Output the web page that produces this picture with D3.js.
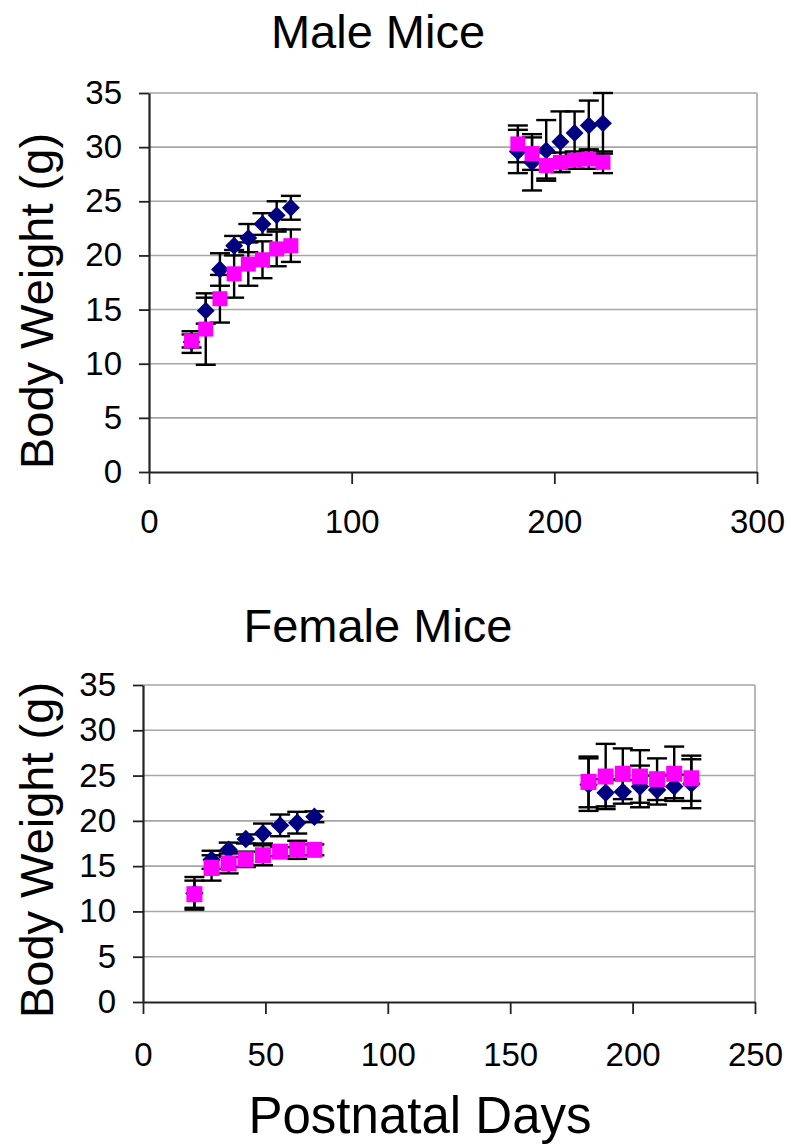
<!DOCTYPE html>
<html>
<head>
<meta charset="utf-8">
<script src="https://cdnjs.cloudflare.com/ajax/libs/d3/7.8.5/d3.min.js"></script>
<style>
  body { margin: 0; background: #fff; }
  svg text { font-family: "Liberation Sans", Arial, sans-serif; fill: #000; }
</style>
</head>
<body>
<div id="chart"></div>
<script>
// Data (postnatal day, body weight g, error g)
const days = [21, 28, 35, 42, 49, 56, 63, 70, 182, 189, 196, 203, 210, 217, 224];

const maleBlue     = [12.0, 14.9, 18.7, 20.9, 21.6, 22.9, 23.7, 24.4, 29.6, 28.6, 29.7, 30.5, 31.3, 32.0, 32.2];
const maleBlueErr  = [1.0, 1.2, 1.5, 0.9, 1.3, 1.0, 1.3, 1.1, 2.0, 2.6, 2.8, 2.8, 2.0, 2.3, 2.8];
const malePink     = [12.1, 13.2, 16.0, 18.3, 19.2, 19.6, 20.6, 20.9, 30.3, 29.4, 28.3, 28.6, 28.8, 28.9, 28.6];
const malePinkErr  = [0.6, 3.3, 2.2, 2.2, 2.0, 1.7, 1.6, 1.5, 1.7, 1.5, 1.2, 0.9, 0.8, 0.9, 1.0];

const femaleBlue    = [12.0, 15.7, 16.8, 18.0, 18.6, 19.5, 19.8, 20.45, 24.0, 23.1, 23.2, 23.8, 23.4, 23.8, 24.1];
const femaleBlueErr = [1.8, 1.0, 0.8, 0.5, 1.1, 1.2, 1.2, 0.6, 2.9, 1.5, 1.3, 2.3, 1.6, 1.3, 2.7];
const femalePink    = [11.9, 14.8, 15.3, 15.75, 16.2, 16.6, 16.8, 16.8, 24.3, 24.9, 25.2, 24.9, 24.6, 25.2, 24.7];
const femalePinkErr = [1.5, 1.4, 1.1, 0.85, 1.1, 0.5, 1.0, 0.6, 2.8, 3.6, 2.8, 2.9, 2.3, 3.0, 2.5];

const yTicks = [0, 5, 10, 15, 20, 25, 30, 35];
const maleXTicks = [0, 100, 200, 300];
const femaleXTicks = [0, 50, 100, 150, 200, 250];

const svgWidth = 791;
const svgHeight = 1144;

const svg = d3.select('#chart')
              .append('svg')
              .attr('width', svgWidth)
              .attr('height', svgHeight);

function drawPanel(p) {
    const xScale = d3.scaleLinear()
                     .domain([0, d3.max(p.xTicks)])
                     .range([p.left, p.right]);
    const yScale = d3.scaleLinear()
                     .domain([0, 35])
                     .range([p.bottom, p.top]);

    const g = svg.append('g');

    // gridlines + right border
    g.selectAll('line.grid')
     .data(yTicks.filter(t => t > 0))
     .enter()
     .append('line')
     .attr('x1', p.left).attr('x2', p.right)
     .attr('y1', d => yScale(d)).attr('y2', d => yScale(d))
     .attr('stroke', '#a6a6a6')
     .attr('stroke-width', 1.6);

    g.append('line')
     .attr('x1', p.right).attr('x2', p.right)
     .attr('y1', p.top).attr('y2', p.bottom)
     .attr('stroke', '#a6a6a6')
     .attr('stroke-width', 1.6);

    // axes
    const leftAxis = d3.axisLeft(yScale)
                       .tickValues(yTicks)
                       .tickSize(10)
                       .tickPadding(17)
                       .tickSizeOuter(0);
    const bottomAxis = d3.axisBottom(xScale)
                         .tickValues(p.xTicks)
                         .tickSize(12)
                         .tickPadding(p.xPad)
                         .tickSizeOuter(0);

    const yAx = g.append('g')
                 .attr('transform', `translate(${p.left}, 0)`)
                 .call(leftAxis);
    const xAx = g.append('g')
                 .attr('transform', `translate(0, ${p.bottom})`)
                 .call(bottomAxis);

    [yAx, xAx].forEach(ax => {
        ax.select('.domain').attr('stroke', '#222').attr('stroke-width', 2.2);
        ax.selectAll('.tick line').attr('stroke', '#222').attr('stroke-width', 1.8);
        ax.selectAll('.tick text')
          .attr('font-size', 33)
          .style('font-family', '"Liberation Sans", Arial, sans-serif');
    });

    // error bars first, then markers on top
    const series = [
        {vals: p.blue, err: p.blueErr},
        {vals: p.pink, err: p.pinkErr}
    ];
    const capHalf = 10;
    series.forEach(s => {
        const eg = g.append('g')
                    .attr('stroke', '#000')
                    .attr('stroke-width', 2.4);
        eg.selectAll(null)
          .data(days)
          .enter()
          .append('line')
          .attr('x1', d => xScale(d)).attr('x2', d => xScale(d))
          .attr('y1', (d, i) => yScale(s.vals[i] + s.err[i]))
          .attr('y2', (d, i) => yScale(s.vals[i] - s.err[i]));
        [1, -1].forEach(sign => {
            eg.selectAll(null)
              .data(days)
              .enter()
              .append('line')
              .attr('x1', d => xScale(d) - capHalf).attr('x2', d => xScale(d) + capHalf)
              .attr('y1', (d, i) => yScale(s.vals[i] + sign * s.err[i]))
              .attr('y2', (d, i) => yScale(s.vals[i] + sign * s.err[i]));
        });
    });

    const diamond = d3.symbol().type(d3.symbolSquare).size(p.markSize);
    g.selectAll(null)
     .data(days)
     .enter()
     .append('path')
     .attr('d', diamond)
     .attr('transform', (d, i) => `translate(${xScale(d)}, ${yScale(p.blue[i])}) rotate(45)`)
     .attr('fill', '#000080');

    g.selectAll(null)
     .data(days)
     .enter()
     .append('rect')
     .attr('x', d => xScale(d) - p.sq / 2)
     .attr('y', (d, i) => yScale(p.pink[i]) - p.sq / 2)
     .attr('width', p.sq)
     .attr('height', p.sq)
     .attr('fill', '#ff00ff');

    // titles
    svg.append('text')
       .attr('x', 378)
       .attr('y', p.titleY)
       .attr('text-anchor', 'middle')
       .attr('font-size', 47)
       .text(p.title);

    svg.append('text')
       .attr('transform', `translate(53, ${p.yLabelY}) rotate(-90)`)
       .attr('text-anchor', 'middle')
       .attr('font-size', 47)
       .text('Body Weight (g)');
}

drawPanel({
    title: 'Male Mice', titleY: 48, yLabelY: 301,
    left: 149, right: 757, top: 93, bottom: 472,
    xTicks: maleXTicks, xPad: 26,
    blue: maleBlue, blueErr: maleBlueErr,
    pink: malePink, pinkErr: malePinkErr,
    markSize: 160, sq: 15
});

drawPanel({
    title: 'Female Mice', titleY: 642, yLabelY: 850,
    left: 143, right: 755, top: 685, bottom: 1002,
    xTicks: femaleXTicks, xPad: 29,
    blue: femaleBlue, blueErr: femaleBlueErr,
    pink: femalePink, pinkErr: femalePinkErr,
    markSize: 170, sq: 16
});

svg.append('text')
   .attr('x', 420)
   .attr('y', 1133)
   .attr('text-anchor', 'middle')
   .attr('font-size', 51)
   .text('Postnatal Days');
</script>
</body>
</html>
